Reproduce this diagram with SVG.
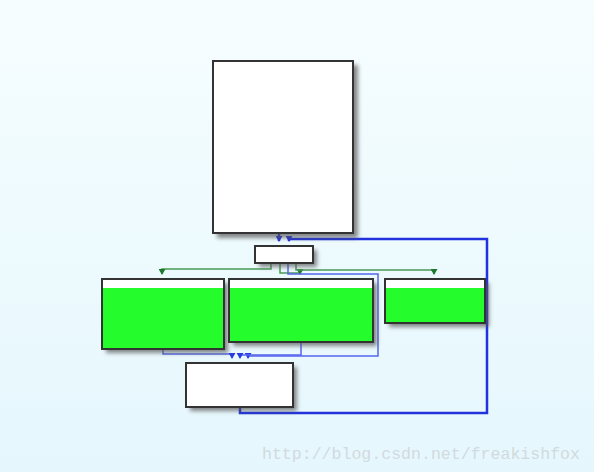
<svg xmlns="http://www.w3.org/2000/svg" width="594" height="472" viewBox="0 0 594 472">
<defs>
<linearGradient id="bg" x1="0" y1="0" x2="0" y2="1">
<stop offset="0" stop-color="#f6fdff"/>
<stop offset="1" stop-color="#e5f7fd"/>
</linearGradient>
<filter id="sh" x="-20%" y="-20%" width="150%" height="150%">
<feGaussianBlur stdDeviation="2"/>
</filter>
<marker id="ab" markerWidth="7" markerHeight="7" refX="3.5" refY="6" markerUnits="userSpaceOnUse" viewBox="0 0 7 7">
<path d="M0,1 L3.5,7 L7,1 Z" fill="#2233dd"/>
</marker>
<marker id="ag" markerWidth="7" markerHeight="7" refX="3.5" refY="6" markerUnits="userSpaceOnUse" viewBox="0 0 7 7">
<path d="M0,1 L3.5,7 L7,1 Z" fill="#1c7a2a"/>
</marker>
<marker id="al" markerWidth="7" markerHeight="7" refX="3.5" refY="6" markerUnits="userSpaceOnUse" viewBox="0 0 7 7">
<path d="M0,1 L3.5,7 L7,1 Z" fill="#2a3be6"/>
</marker>
</defs>
<style>
.shadow{fill:#555;opacity:0.7;filter:url(#sh)}
.box{fill:#ffffff;stroke:#333333;stroke-width:2}
.green{fill:#24fc2c}
.frame{fill:none;stroke:#333333;stroke-width:2}
.eb{fill:none;stroke:#2233dd;stroke-width:2.5}
.el{fill:none;stroke:#5566ee;stroke-width:1.5}
.eg{fill:none;stroke:#4a9a56;stroke-width:1.5}
.wm{font-family:"Liberation Mono",monospace;font-size:16.5px;fill:#d2dadd}
</style>
<rect width="594" height="472" fill="url(#bg)"/>

<g id="connectors">
<path class="eb" d="M279,233 L279,241" marker-end="url(#ab)"/>
<path class="eb" d="M240,407 L240,413 L487,413 L487,239 L289,239 L289,241" marker-end="url(#ab)"/>
<path class="eg" d="M271,263 L271,269 L162,269 L162,274" marker-end="url(#ag)"/>
<path class="eg" d="M280,263 L280,273 L300,273 L300,274" marker-end="url(#ag)"/>
<path class="eg" d="M296,263 L296,270 L434,270 L434,274" marker-end="url(#ag)"/>
<path class="el" d="M288,263 L288,274 L378,274 L378,356 L248,356 L248,358" marker-end="url(#al)"/>
<path class="el" d="M163,349 L163,354 L232,354 L232,358" marker-end="url(#al)"/>
<path class="el" d="M301,342 L301,355 L240,355 L240,358" marker-end="url(#al)"/>
</g>

<g id="node1">
<rect class="shadow" x="217" y="65" width="141" height="173"/>
<rect class="box" x="213" y="61" width="140" height="172"/>
</g>
<g id="node2">
<rect class="shadow" x="259" y="250" width="58" height="17"/>
<rect class="box" x="255" y="246" width="58" height="17"/>
</g>
<g id="node3">
<rect class="shadow" x="106" y="283" width="122" height="70"/>
<rect class="box" x="102" y="279" width="122" height="70"/>
<rect class="green" x="103" y="288" width="120" height="60"/>
<rect class="frame" x="102" y="279" width="122" height="70"/>
</g>
<g id="node4">
<rect class="shadow" x="233" y="283" width="144" height="63"/>
<rect class="box" x="229" y="279" width="144" height="63"/>
<rect class="green" x="230" y="288" width="142" height="53"/>
<rect class="frame" x="229" y="279" width="144" height="63"/>
</g>
<g id="node5">
<rect class="shadow" x="389" y="283" width="100" height="44"/>
<rect class="box" x="385" y="279" width="100" height="44"/>
<rect class="green" x="386" y="288" width="98" height="34"/>
<rect class="frame" x="385" y="279" width="100" height="44"/>
</g>
<g id="node6">
<rect class="shadow" x="190" y="367" width="107" height="44"/>
<rect class="box" x="186" y="363" width="107" height="44"/>
</g>

<text class="wm" x="262" y="459" textLength="318" lengthAdjust="spacingAndGlyphs">http://blog.csdn.net/freakishfox</text>
</svg>
